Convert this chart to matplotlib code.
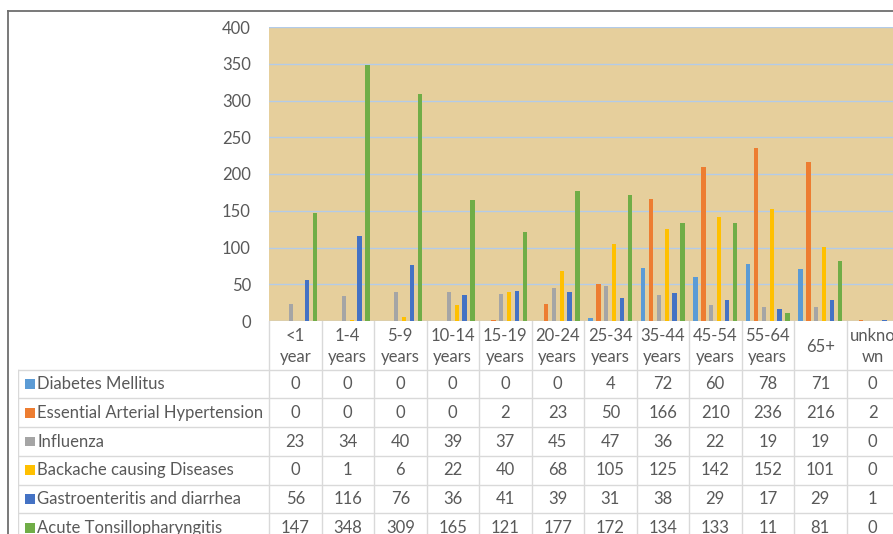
import numpy as np
import matplotlib.pyplot as plt
from matplotlib.lines import Line2D
from matplotlib.patches import Rectangle

plt.rcParams['font.family'] = ['Lato', 'DejaVu Sans']

# data
age_groups = ['<1\nyear', '1-4\nyears', '5-9\nyears', '10-14\nyears', '15-19\nyears',
              '20-24\nyears', '25-34\nyears', '35-44\nyears', '45-54\nyears',
              '55-64\nyears', '65+', 'unkno\nwn']
series_names = ['Diabetes Mellitus', 'Essential Arterial Hypertension', 'Influenza',
                'Backache causing Diseases', 'Gastroenteritis and diarrhea',
                'Acute Tonsillopharyngitis']
diabetes = [0, 0, 0, 0, 0, 0, 4, 72, 60, 78, 71, 0]
hypertension = [0, 0, 0, 0, 2, 23, 50, 166, 210, 236, 216, 2]
influenza = [23, 34, 40, 39, 37, 45, 47, 36, 22, 19, 19, 0]
backache = [0, 1, 6, 22, 40, 68, 105, 125, 142, 152, 101, 0]
gastro = [56, 116, 76, 36, 41, 39, 31, 38, 29, 17, 29, 1]
tonsil = [147, 348, 309, 165, 121, 177, 172, 134, 133, 11, 81, 0]
values = [diabetes, hypertension, influenza, backache, gastro, tonsil]
colors = ['#5B9BD5', '#ED7D31', '#A5A5A5', '#FFC000', '#4472C4', '#70AD47']

W, H = 893, 534
txt = '#595959'
grid_c = '#d9d9d9'
fs = 12

fig = plt.figure(figsize=(W / 100, H / 100), dpi=100)

# chart area (pixel layout of the original)
ax = fig.add_axes([269 / W, 1 - 321 / H, 630 / W, 294 / H])
ax.set_facecolor('#e6cf9c')
x = np.arange(len(age_groups))
slot = 0.152
for i, (vals, c) in enumerate(zip(values, colors)):
    ax.bar(x + (i - 2.5) * slot, vals, width=0.085, color=c, zorder=3)
ax.set_xlim(-0.5, len(age_groups) - 0.5)
ax.set_ylim(0, 400)
ax.set_yticks(range(0, 401, 50))
ax.set_xticks([])
ax.yaxis.grid(True, color='#b3cbe8', linewidth=1.0, zorder=1)
ax.tick_params(axis='y', length=0, pad=13, labelsize=fs, labelcolor=txt)
for s in ax.spines.values():
    s.set_visible(False)

# data table below the chart
n = len(age_groups)
lab_w = (269 - 18) / 52.5
hdr = 1.7
tab = fig.add_axes([18 / W, 1 - 542 / H, (899 - 18) / W, (542 - 321) / H])
tab.set_xlim(-0.5 - lab_w, n - 0.5)
tab.set_ylim(hdr + 6, 0)
tab.axis('off')

for k in range(n + 1):
    tab.plot([k - 0.5, k - 0.5], [0, hdr + 6], color=grid_c, lw=1)
tab.plot([-0.5 - lab_w] * 2, [hdr, hdr + 6], color=grid_c, lw=1)
for r in range(7):
    tab.plot([-0.5 - lab_w, n - 0.5], [hdr + r, hdr + r], color=grid_c, lw=1)

for j, lab in enumerate(age_groups):
    tab.text(j, hdr / 2 + 0.04, lab, ha='center', va='center', fontsize=fs,
             color=txt, linespacing=1.4)

for r, (name, vals, c) in enumerate(zip(series_names, values, colors)):
    yc = hdr + r + 0.5
    tab.add_patch(Rectangle((-0.5 - lab_w + 0.13, yc - 0.17), 0.19, 0.34,
                            color=c, lw=0))
    tab.text(-0.5 - lab_w + 0.37, yc, name, ha='left', va='center',
             fontsize=fs, color=txt)
    for j, v in enumerate(vals):
        tab.text(j, yc, str(v), ha='center', va='center', fontsize=fs,
                 color=txt)

# outer frame of the cropped figure
fig.add_artist(Line2D([8 / W, 8 / W], [0, 1 - 11 / H], color='#6e6e6e', lw=1.3))
fig.add_artist(Line2D([8 / W, 1], [1 - 11 / H, 1 - 11 / H], color='#6e6e6e', lw=1.3))

fig.savefig('out.png', dpi=100)
